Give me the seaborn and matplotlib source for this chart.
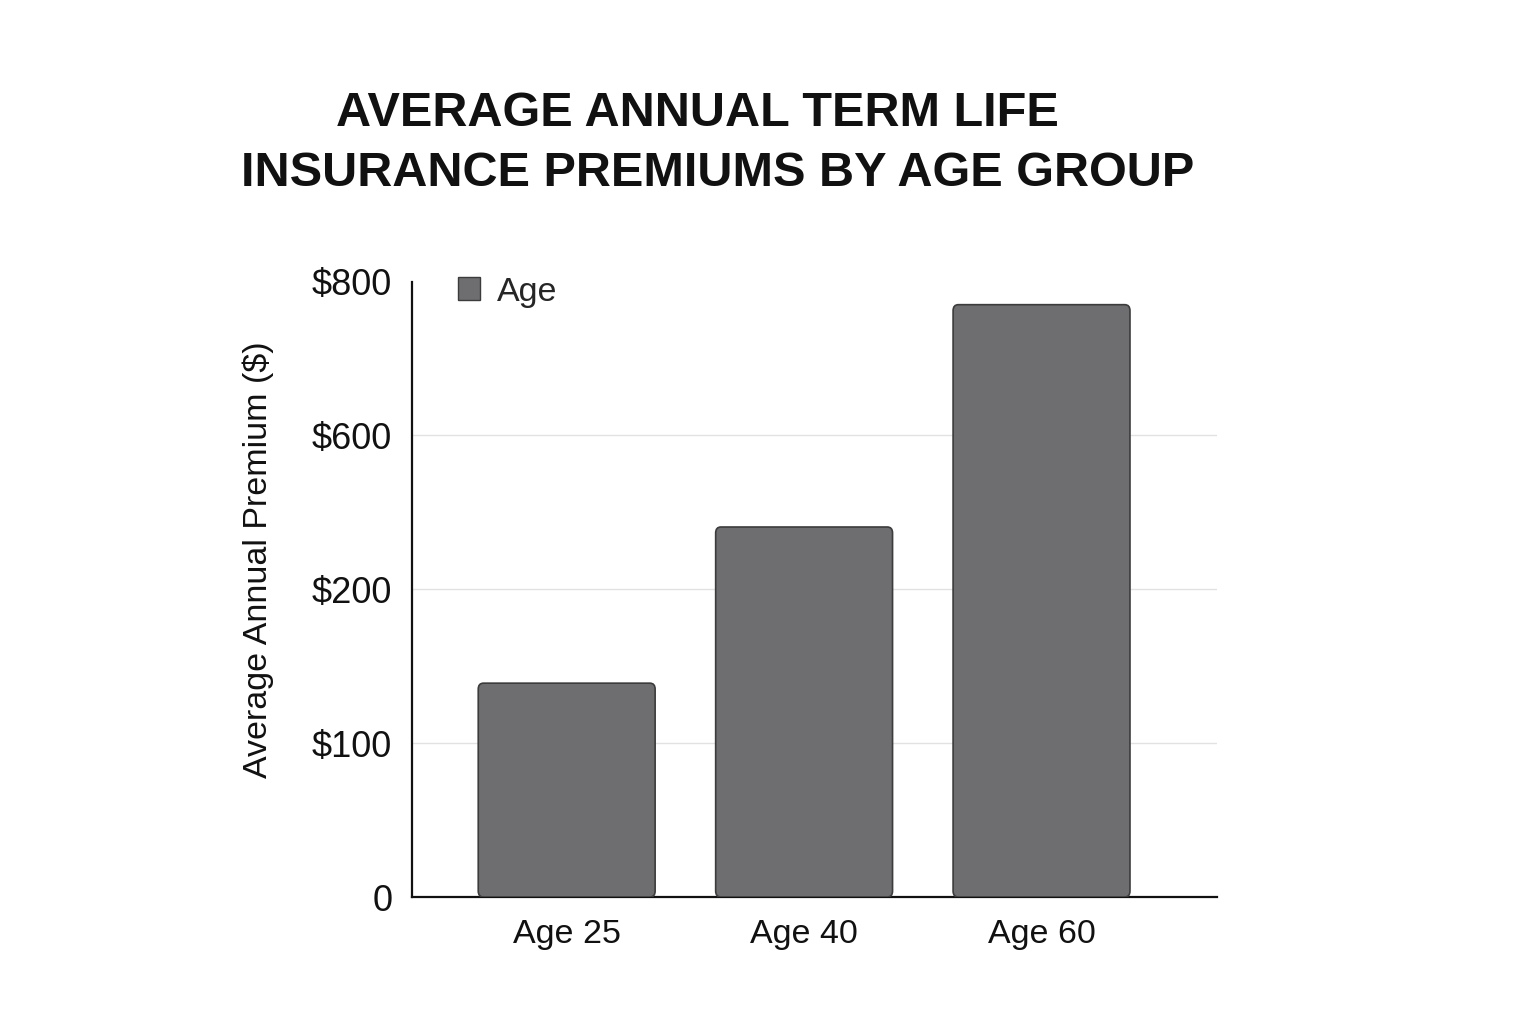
import matplotlib
matplotlib.use("Agg")
import matplotlib.pyplot as plt
import pandas as pd
import seaborn as sns
from matplotlib.patches import FancyBboxPatch, Patch

# data
groups = ["Age 25", "Age 40", "Age 60"]
premiums = [278, 481, 770]
tick_values = [0, 200, 400, 600, 800]
tick_labels = ["0", "$100", "$200", "$600", "$800"]

df = pd.DataFrame({"group": groups, "premium": premiums})

sns.set_theme(style="white")
plt.rcParams["font.family"] = ["Liberation Sans", "DejaVu Sans"]

bar_color = "#6e6d6f"
edge_color = "#3c3c3c"
text_color = "#111111"

fig = plt.figure(figsize=(15.36, 10.24), dpi=100)
ax = fig.add_axes([0.268, 0.124, 0.524, 0.601])

sns.barplot(data=df, x="group", y="premium", color=bar_color, width=0.745,
            saturation=1, edgecolor=edge_color, linewidth=1.2, ax=ax)

ax.set_xlim(-0.653, 2.737)
ax.set_ylim(0, 800)

# swap the plain rectangles for slightly rounded ones
r = 0.022
aspect = (6.0 / (615 / 800)) / r
for p in list(ax.patches):
    x, y = p.get_x(), p.get_y()
    w, h = p.get_width(), p.get_height()
    fb = FancyBboxPatch((x, y), w, h, boxstyle=f"round,pad=0,rounding_size={r}",
                        mutation_aspect=aspect, facecolor=bar_color,
                        edgecolor=edge_color, linewidth=1.2, zorder=3)
    p.set_visible(False)
    ax.add_patch(fb)

# light gridlines, none at the top or the base
for v in tick_values[1:-1]:
    ax.axhline(v, color="#e2e2e2", linewidth=1, zorder=0)

ax.set_yticks(tick_values)
ax.set_yticklabels(tick_labels)
ax.tick_params(axis="both", length=0, colors=text_color)
ax.tick_params(axis="y", labelsize=26, pad=14)
ax.tick_params(axis="x", labelsize=24.5, pad=16)

for side in ["top", "right"]:
    ax.spines[side].set_visible(False)
for side in ["left", "bottom"]:
    ax.spines[side].set_color(text_color)
    ax.spines[side].set_linewidth(1.6)

ax.set_xlabel("")
ax.set_ylabel("Average Annual Premium ($)", fontsize=24.5, color=text_color)
ax.yaxis.set_label_coords(-0.171, 0.548)

handle = Patch(facecolor=bar_color, edgecolor=edge_color, linewidth=1.0, label="Age")
ax.legend(handles=[handle], loc="upper left", bbox_to_anchor=(0.019, 1.058), frameon=False,
          fontsize=24.5, handlelength=0.65, handleheight=0.65, handletextpad=0.5)

fig.text(0.467, 0.911, "AVERAGE ANNUAL TERM LIFE   \nINSURANCE PREMIUMS BY AGE GROUP",
         ha="center", va="top", fontsize=35, fontweight="bold", color=text_color,
         linespacing=1.43)

fig.savefig("out.png", dpi=100, facecolor="white")
